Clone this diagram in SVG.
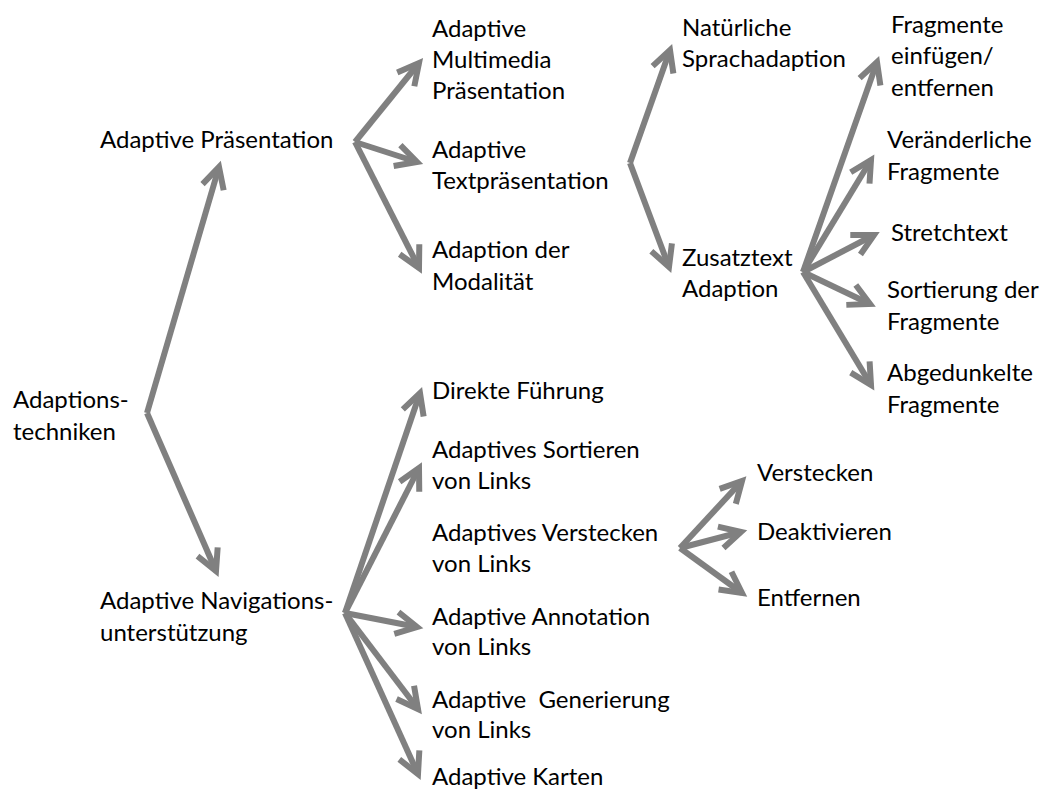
<svg xmlns="http://www.w3.org/2000/svg" width="1045" height="791" viewBox="0 0 1045 791">
<style>
text{font-family:Lato,"Open Sans","Liberation Sans",sans-serif;font-size:24px;fill:#000}
.c line{stroke:#808080;stroke-width:6;fill:none;marker-end:url(#ah)}
</style>
<defs>
<marker id="ah" markerUnits="userSpaceOnUse" viewBox="-30 -16 36 32" refX="0" refY="0" markerWidth="36" markerHeight="32" orient="auto" overflow="visible">
<path d="M-21,-11 L0,0 L-21,11" fill="none" stroke="#808080" stroke-width="6" stroke-linejoin="miter"/>
</marker>
</defs>
<rect width="1045" height="791" fill="#fff"/>
<g class="c" id="connectors">
<line x1="147" y1="413" x2="219" y2="167"/>
<line x1="147" y1="413" x2="216" y2="571"/>
<line x1="355" y1="142" x2="419" y2="63"/>
<line x1="355" y1="142" x2="417" y2="162"/>
<line x1="355" y1="142" x2="419" y2="268"/>
<line x1="630" y1="163" x2="670" y2="50"/>
<line x1="630" y1="163" x2="669" y2="267"/>
<line x1="803" y1="272" x2="877" y2="62"/>
<line x1="803" y1="272" x2="871" y2="160"/>
<line x1="803" y1="272" x2="874" y2="235"/>
<line x1="803" y1="272" x2="870" y2="304"/>
<line x1="803" y1="272" x2="871" y2="385"/>
<line x1="345" y1="613" x2="420" y2="393"/>
<line x1="345" y1="613" x2="419" y2="468"/>
<line x1="345" y1="613" x2="417" y2="627"/>
<line x1="345" y1="613" x2="418" y2="709"/>
<line x1="345" y1="613" x2="418" y2="774"/>
<line x1="680" y1="548" x2="742" y2="481"/>
<line x1="680" y1="548" x2="741" y2="532"/>
<line x1="680" y1="548" x2="742" y2="593"/>
</g>
<g id="n-root"><text x="13" y="408">Adaptions-</text><text x="13" y="440">techniken</text></g>
<g id="n-praes"><text x="100" y="148">Adaptive Präsentation</text></g>
<g id="n-nav"><text x="100" y="609">Adaptive Navigations-</text><text x="100" y="641">unterstützung</text></g>
<g id="n-multi"><text x="432" y="37">Adaptive</text><text x="432" y="68">Multimedia</text><text x="432" y="99">Präsentation</text></g>
<g id="n-text"><text x="432" y="158">Adaptive</text><text x="432" y="189">Textpräsentation</text></g>
<g id="n-modal"><text x="432" y="258">Adaption der</text><text x="432" y="290">Modalität</text></g>
<g id="n-nat"><text x="682" y="36">Natürliche</text><text x="682" y="67">Sprachadaption</text></g>
<g id="n-zus"><text x="682" y="266">Zusatztext</text><text x="682" y="297">Adaption</text></g>
<g id="n-frag"><text x="891" y="33">Fragmente</text><text x="891" y="64">einfügen/</text><text x="891" y="96">entfernen</text></g>
<g id="n-ver"><text x="887" y="148">Veränderliche</text><text x="887" y="180">Fragmente</text></g>
<g id="n-stretch"><text x="891" y="241">Stretchtext</text></g>
<g id="n-sort"><text x="887" y="298">Sortierung der</text><text x="887" y="330">Fragmente</text></g>
<g id="n-abg"><text x="887" y="381">Abgedunkelte</text><text x="887" y="413">Fragmente</text></g>
<g id="n-dir"><text x="432" y="399">Direkte Führung</text></g>
<g id="n-sortl"><text x="432" y="458">Adaptives Sortieren</text><text x="432" y="489">von Links</text></g>
<g id="n-verl"><text x="432" y="541">Adaptives Verstecken</text><text x="432" y="572">von Links</text></g>
<g id="n-ann"><text x="432" y="625">Adaptive Annotation</text><text x="432" y="655">von Links</text></g>
<g id="n-gen"><text x="432" y="708" xml:space="preserve">Adaptive  Generierung</text><text x="432" y="738">von Links</text></g>
<g id="n-karten"><text x="432" y="785">Adaptive Karten</text></g>
<g id="n-verst"><text x="757" y="481">Verstecken</text></g>
<g id="n-deak"><text x="757" y="540">Deaktivieren</text></g>
<g id="n-entf"><text x="757" y="606">Entfernen</text></g>
</svg>
